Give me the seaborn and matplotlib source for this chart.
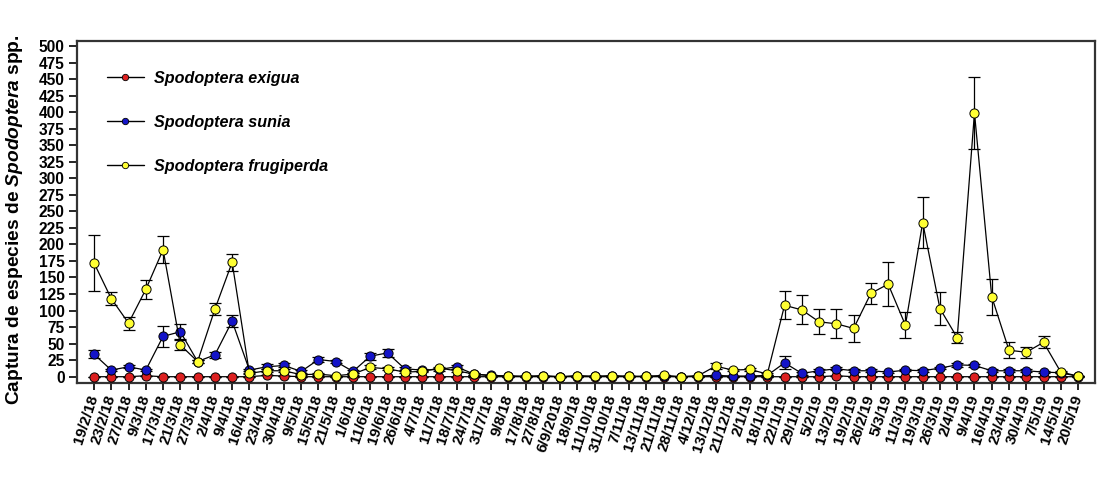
import numpy as np
import pandas as pd
import matplotlib
matplotlib.use("Agg")
import matplotlib.pyplot as plt
from matplotlib.lines import Line2D
import seaborn as sns

dates = ["19/2/18", "23/2/18", "27/2/18", "9/3/18", "17/3/18", "21/3/18", "27/3/18",
         "2/4/18", "9/4/18", "16/4/18", "23/4/18", "30/4/18", "9/5/18", "15/5/18",
         "21/5/18", "1/6/18", "11/6/18", "19/6/18", "26/6/18", "4/7/18", "11/7/18",
         "18/7/18", "24/7/18", "31/7/18", "9/8/18", "17/8/18", "27/8/18", "6/9/2018",
         "18/9/18", "11/10/18", "31/10/18", "7/11/18", "13/11/18", "21/11/18",
         "28/11/18", "4/12/18", "13/12/18", "21/12/18", "2/1/19", "18/1/19", "22/1/19",
         "29/1/19", "5/2/19", "13/2/19", "19/2/19", "26/2/19", "5/3/19", "11/3/19",
         "19/3/19", "26/3/19", "2/4/19", "9/4/19", "16/4/19", "23/4/19", "30/4/19",
         "7/5/19", "14/5/19", "20/5/19"]

exigua = [0, 0, 0, 1.5, 0, 0, 0, 0, 0, 0, 2, 1, 0, 0, 0, 0, 0, 0, 0, 0,
          0, 0, 0, 0, 0, 0, 0, 0, 0, 0, 0, 0, 0, 0, 0, 0, 0, 0, 0, 0,
          0, 0, 0, 1.5, 0, 0, 0, 0, 0, 0, 0, 0, 0, 0, 0, 0, 0, 0]
exigua_se = [0] * 58

sunia = [34, 10, 15, 10, 61, 68, 23, 33, 84, 10, 15, 17, 8, 26, 23, 8, 31, 36, 12, 10,
         11, 15, 4, 2, 1, 0.5, 1, 0, 1, 0.5, 1, 0.5, 0.5, 1, 0, 1, 2, 1, 1, 2,
         21, 5, 9, 12, 9, 9, 7, 10, 9, 13, 18, 17, 9, 9, 9, 7, 6, 0.5]
sunia_se = [6, 2, 2, 2, 16, 11, 2, 4, 9, 2, 4, 3, 2, 4, 2, 2, 5, 6, 2, 2,
            2, 3, 1, 0, 0, 0, 0, 0, 0, 0, 0, 0, 0, 0, 0, 0, 1, 0, 0, 0,
            10, 2, 2, 2, 2, 2, 2, 2, 2, 2, 3, 2, 2, 2, 2, 2, 1, 0]

frugiperda = [172, 118, 81, 132, 192, 48, 23, 102, 173, 5, 9, 9, 3, 4, 1.5, 4, 14, 12, 7, 8,
              13, 9, 4, 1.5, 1, 0.5, 1.5, 0, 1.5, 0.5, 1.5, 0.5, 0.5, 2, 0, 1.5, 16, 10, 11, 4,
              108, 101, 83, 80, 73, 126, 140, 78, 233, 103, 59, 399, 121, 40, 37, 52, 7, 1]
frugiperda_se = [42, 10, 10, 14, 20, 8, 3, 9, 13, 1, 2, 2, 1, 1, 0, 1, 3, 2, 1, 1,
                 2, 2, 1, 0, 0, 0, 0, 0, 0, 0, 0, 0, 0, 0, 0, 0, 5, 2, 2, 1,
                 21, 22, 19, 22, 21, 16, 33, 20, 38, 25, 8, 54, 27, 12, 8, 9, 2, 0]

species = ["Spodoptera exigua", "Spodoptera sunia", "Spodoptera frugiperda"]
colors = ["#dc2020", "#1414c8", "#ffff33"]

df = pd.DataFrame({
    "pos": np.tile(np.arange(len(dates)), 3),
    "fecha": dates * 3,
    "especie": np.repeat(species, len(dates)),
    "captura": exigua + sunia + frugiperda,
    "se": exigua_se + sunia_se + frugiperda_se,
})

sns.set_theme(style="ticks")
plt.rcParams["font.family"] = ["Liberation Sans", "DejaVu Sans"]
plt.rcParams["text.color"] = "black"
plt.rcParams["axes.labelcolor"] = "black"
plt.rcParams["xtick.color"] = "black"
plt.rcParams["ytick.color"] = "black"
plt.rcParams["mathtext.fontset"] = "custom"
plt.rcParams["mathtext.rm"] = "Liberation Sans:bold"
plt.rcParams["mathtext.it"] = "Liberation Sans:italic:bold"
plt.rcParams["mathtext.bf"] = "Liberation Sans:bold"
plt.rcParams["mathtext.bfit"] = "Liberation Sans:italic:bold"

fig = plt.figure(figsize=(11.05, 4.82), dpi=100)
ax = fig.add_axes([0.0697, 0.2054, 0.9213, 0.7096])

for k, (sp, col) in enumerate(zip(species, colors)):
    sub = df[df["especie"] == sp]
    ax.errorbar(sub["pos"], sub["captura"], yerr=sub["se"], fmt="none",
                ecolor="black", elinewidth=0.9, capsize=4.3, capthick=0.9,
                zorder=2 + 2 * k)
    sns.lineplot(data=sub, x="pos", y="captura", ax=ax, color="black",
                 linewidth=0.9, marker="o", markersize=6.6,
                 markerfacecolor=col, markeredgecolor="black",
                 markeredgewidth=0.7, zorder=3 + 2 * k, errorbar=None)

ax.set_xlim(-0.985, len(dates) - 1 + 0.985)
ax.set_ylim(-9.5, 507.6)
ax.set_yticks(np.arange(0, 501, 25))
ax.set_yticklabels([str(v) for v in range(0, 501, 25)], fontsize=11.2,
                   fontweight="bold")
ax.set_xticks(np.arange(len(dates)))
ax.set_xticklabels(dates, rotation=72, ha="right", va="center",
                   rotation_mode="anchor", fontsize=11, fontweight="bold")
ax.tick_params(axis="y", length=6, width=1.2, pad=3)
ax.tick_params(axis="x", length=5, width=1.2, pad=4)
for s in ax.spines.values():
    s.set_linewidth(1.6)
    s.set_color("#333333")
    s.set_visible(True)

ax.set_xlabel("")
ax.set_ylabel(r"Captura de especies de $\mathbfit{Spodoptera}$ spp.",
              fontsize=13.8, fontweight="bold")
ax.yaxis.set_label_coords(-0.051, 0.477)

handles = [Line2D([0], [0], color="black", lw=1.0, marker="o", markersize=4.6,
                  markerfacecolor=c, markeredgecolor="black", markeredgewidth=0.6)
           for c in colors]
leg = ax.legend(handles, species, loc="upper left", bbox_to_anchor=(0.015, 0.955),
                frameon=False, handlelength=2.3, handletextpad=0.65,
                labelspacing=1.8, prop={"size": 11.6, "weight": "bold",
                                        "style": "italic"})

fig.savefig("out.png", dpi=100)
